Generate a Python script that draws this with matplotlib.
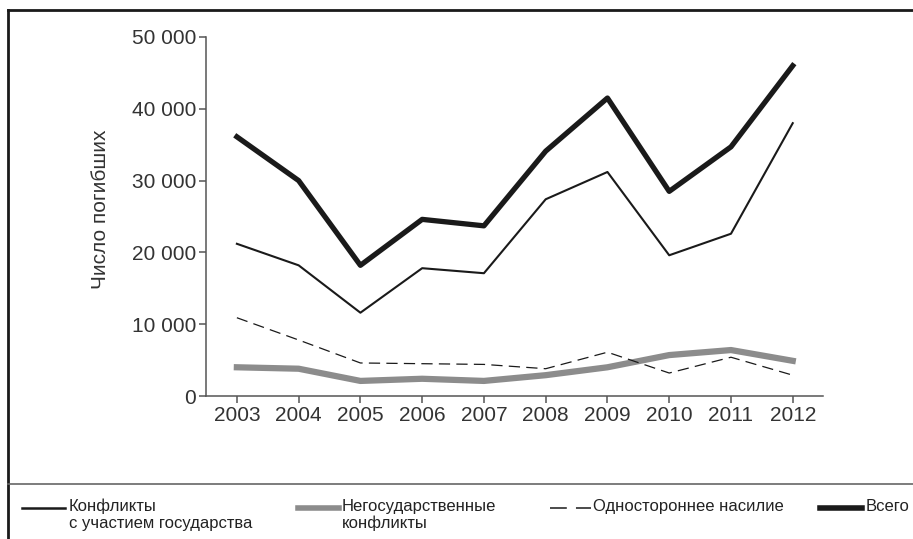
import matplotlib
matplotlib.use("Agg")
import matplotlib.pyplot as plt
from matplotlib.lines import Line2D
from matplotlib.ticker import FuncFormatter

# ---------------------------------------------------------------------------
# Данные
# ---------------------------------------------------------------------------
years = [2003, 2004, 2005, 2006, 2007, 2008, 2009, 2010, 2011, 2012]
state_based = [21200, 18200, 11600, 17800, 17100, 27400, 31200, 19600, 22600, 38000]
non_state = [4000, 3800, 2100, 2400, 2100, 2900, 4000, 5700, 6400, 4900]
one_sided = [10900, 7800, 4600, 4500, 4400, 3800, 6100, 3200, 5400, 2900]
total = [36100, 30000, 18200, 24600, 23700, 34100, 41500, 28500, 34700, 46000]

y_ticks = [0, 10000, 20000, 30000, 40000, 50000]

legend_labels = ["Конфликты\nс участием государства",
                 "Негосударственные\nконфликты",
                 "Одностороннее насилие",
                 "Всего"]

plt.rcParams["font.family"] = ["Liberation Sans", "DejaVu Sans"]

W, H = 913, 539
fig = plt.figure(figsize=(W / 100, H / 100), dpi=100)
ax = fig.add_axes([206 / W, 1 - 396 / H, (823 - 206) / W, (396 - 37) / H])

ax.plot(years, state_based, color="#1a1a1a", lw=1.5)
ax.plot(years, non_state, color="#8c8c8c", lw=4.5)
ax.plot(years, one_sided, color="#1a1a1a", lw=0.9, dashes=(9, 5))
ax.plot(years, total, color="#1a1a1a", lw=3.8)

ax.set_xlim(2002.5, 2012.49)
ax.set_ylim(0, 50000)
ax.set_xticks(years)
ax.set_yticks(y_ticks)
ax.yaxis.set_major_formatter(FuncFormatter(lambda v, p: f"{int(v):,}".replace(",", " ")))

for s in ["top", "right"]:
    ax.spines[s].set_visible(False)
for s in ["left", "bottom"]:
    ax.spines[s].set_color("#555555")
    ax.spines[s].set_linewidth(1.1)
ax.tick_params(axis="both", colors="#555555", length=5, width=1.1, pad=2,
               labelsize=15, labelcolor="#333333")
ax.set_ylabel("Число погибших", fontsize=15, color="#333333")
ax.yaxis.set_label_coords((110 - 206) / (823 - 206), 0.52)

# рамка и разделитель
fig.add_artist(Line2D([8 / W, 8 / W], [0, 1 - 10 / H], color="#1a1a1a", lw=2.0))
fig.add_artist(Line2D([8 / W, 1], [1 - 10 / H, 1 - 10 / H], color="#1a1a1a", lw=2.0))
fig.add_artist(Line2D([8 / W, 1], [1 - 484 / H, 1 - 484 / H], color="#666666", lw=1.2))

# легенда
ly = 1 - 508 / H
handles = [
    dict(x=(22, 65), color="#1a1a1a", lw=1.8, ls="-", tx=69),
    dict(x=(298, 339), color="#8c8c8c", lw=4.0, ls="-", tx=342),
    dict(x=(550, 591), color="#1a1a1a", lw=1.1, ls=(0, (11, 6)), tx=593),
    dict(x=(820, 862), color="#1a1a1a", lw=4.0, ls="-", tx=866),
]
for h, lab in zip(handles, legend_labels):
    fig.add_artist(Line2D([h["x"][0] / W, h["x"][1] / W], [ly, ly],
                          color=h["color"], lw=h["lw"], linestyle=h["ls"]))
    fig.text(h["tx"] / W, 1 - 499 / H, lab, fontsize=12,
             color="#222222", va="top", ha="left", linespacing=1.1)

fig.savefig("out.png", dpi=100)
